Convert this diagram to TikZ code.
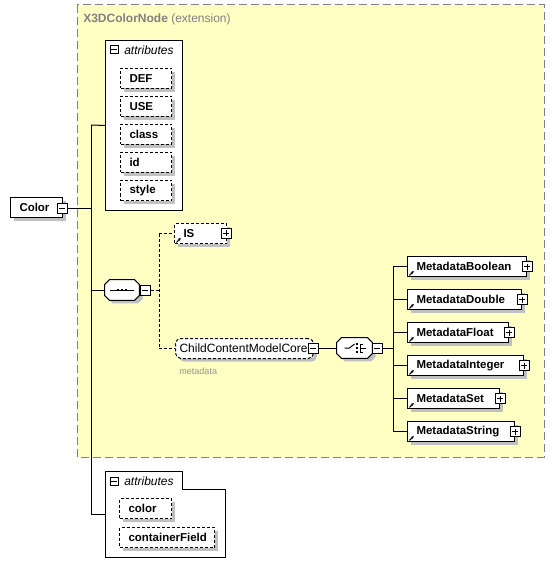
\documentclass[tikz,border=0pt]{standalone}
\usepackage{fontspec}
\setmainfont{Liberation Sans}
\usetikzlibrary{shadows,arrows.meta}
\def\pxu{0.75pt}
\definecolor{bgyellow}{HTML}{FFFFC4}
\definecolor{shdgray}{HTML}{C0C0C0}
\definecolor{ttlgray}{HTML}{808080}
\tikzset{
  lw/.style={line width=0.75pt},
  boldtxt/.style={font=\fontsize{8.6}{10}\selectfont\bfseries},
  regtxt/.style={font=\fontsize{9}{10}\selectfont},
  shd/.style={drop shadow={shadow xshift=2.6pt, shadow yshift=-2.4pt, fill=shdgray, opacity=1}},
  box/.style={draw, lw, fill=white, boldtxt, minimum height=15pt, inner ysep=0pt, inner xsep=6.75pt, align=left, shd},
  optbox/.style={box, dash pattern=on 2.25pt off 1.5pt},
  expb/.style={draw, lw, fill=white, minimum size=7.5pt, inner sep=0pt},
  minusbox/.style={expb, path picture={\draw[lw] ([xshift=1.5pt]path picture bounding box.west) -- ([xshift=-1.5pt]path picture bounding box.east);}},
  plusbox/.style={expb, path picture={\draw[lw] ([xshift=1.5pt]path picture bounding box.west) -- ([xshift=-1.5pt]path picture bounding box.east); \draw[lw] ([yshift=-1.5pt]path picture bounding box.north) -- ([yshift=1.5pt]path picture bounding box.south);}},
  smallminus/.style={draw, lw, fill=white, minimum size=6pt, inner sep=0pt, path picture={\draw[lw] ([xshift=1.1pt]path picture bounding box.west) -- ([xshift=-1.1pt]path picture bounding box.east);}},
  comp/.style={minimum height=15pt, inner sep=0pt},
  conn/.style={lw},
  dconn/.style={lw, dash pattern=on 2.25pt off 1.5pt},
  refarrow/.style={lw, -{Stealth[length=2.4pt,width=2.4pt]}},
  attrhdr/.style={font=\fontsize{9}{10}\selectfont\itshape, inner sep=0pt, anchor=west}
}
\newcommand\ebox[6][]{%
  \pgfmathsetmacro\tw{(#5)*0.75-13.5}%
  \node[box,#1,text width=\tw pt,anchor=north west] (#2) at (#3,#4) {#6};}
\newcommand\refmark[1]{\draw[refarrow] ([xshift=1.8pt,yshift=1.2pt]#1.south west) -- ++(3.3pt,3.3pt);}
% octagon outline around a node: #1 node, #2 x offset, #3 y offset, #4 path options
\newcommand\octa[4]{%
  \path[#4] ([xshift=#2+3.5pt,yshift=#3]#1.north west) -- ([xshift=#2-3.5pt,yshift=#3]#1.north east)
   -- ([xshift=#2,yshift=#3-3.5pt]#1.north east) -- ([xshift=#2,yshift=#3+3.5pt]#1.south east)
   -- ([xshift=#2-3.5pt,yshift=#3]#1.south east) -- ([xshift=#2+3.5pt,yshift=#3]#1.south west)
   -- ([xshift=#2,yshift=#3+3.5pt]#1.south west) -- ([xshift=#2,yshift=#3-3.5pt]#1.north west) -- cycle;}
\begin{document}
\begin{tikzpicture}[x=0.75pt,y=-0.75pt]
\useasboundingbox (0,0) rectangle (554,577);
% extension region
\path[fill=bgyellow, draw=ttlgray, lw, dash pattern=on 6pt off 3pt] (77,5) rectangle (544,457);
\node[anchor=west, inner sep=0pt, text=ttlgray, regtxt] (ttl) at (83,19) {\textbf{X3DColorNode} (extension)};

% top attributes group
\node[draw, lw, fill=white, anchor=north west, minimum width=77*\pxu, minimum height=170*\pxu, inner sep=0pt] (attrA) at (105,40) {};
\node[smallminus] (attrAx) at (114,50) {};
\node[attrhdr] (attrAh) at (124,50) {attributes};
\ebox[optbox]{def}{120}{68}{51}{DEF}
\ebox[optbox]{use}{120}{96}{51}{USE}
\ebox[optbox]{cls}{120}{124}{51}{class}
\ebox[optbox]{idn}{120}{152}{51}{id}
\ebox[optbox]{sty}{120}{180}{51}{style}

% root
\ebox{color}{10}{197}{52}{Color}
\node[minusbox] (colorx) at (62,208) {};

% sequence
\node[comp, minimum width=34*\pxu] (seq) at (122,290) {};
\octa{seq}{2.6pt}{-2.4pt}{fill=shdgray}
\octa{seq}{0pt}{0pt}{draw, lw, fill=white}
\draw[conn] ([xshift=-9pt]seq.center) -- ([xshift=9pt]seq.center);
\foreach \dx in {-3,0,3} \fill ([xshift=\dx pt]seq.center) +(-1pt,-1pt) rectangle +(1pt,1pt);
\node[minusbox] (seqx) at (145,290) {};

% IS
\ebox[optbox]{is}{174}{223}{52}{IS}
\refmark{is}
\node[plusbox] (isx) at (226,233) {};

% ChildContentModelCore
\node[box, dash pattern=on 2.25pt off 1.5pt, rounded corners=4pt, regtxt, anchor=north west, text width=97.5pt, inner xsep=3pt] (ccm) at (175,338) {ChildContentModelCore};
\node[minusbox] (ccmx) at (313,348) {};
\node[anchor=west, inner sep=0pt, text=ttlgray!85, font=\fontsize{6.8}{8}\selectfont] (ccmlbl) at (179,371) {metadata};

% choice
\node[comp, minimum width=35*\pxu] (cho) at (354.5,348) {};
\octa{cho}{2.6pt}{-2.4pt}{fill=shdgray}
\octa{cho}{0pt}{0pt}{draw, lw, fill=white}
\draw[conn] ([xshift=-7.5pt]cho.center) -- ([xshift=-3.8pt]cho.center) -- ([xshift=0pt,yshift=3pt]cho.center);
\foreach \dy in {-3,0,3} \fill ([xshift=2pt,yshift=\dy pt]cho.center) +(-0.9pt,-0.9pt) rectangle +(0.9pt,0.9pt);
\draw[conn] ([xshift=6.4pt,yshift=3pt]cho.center) -- ([xshift=4.2pt,yshift=3pt]cho.center) -- ([xshift=4.2pt,yshift=-3pt]cho.center) -- ([xshift=6.4pt,yshift=-3pt]cho.center);
\draw[conn] ([xshift=4.2pt]cho.center) -- ([xshift=8.4pt]cho.center);
\node[minusbox] (chox) at (377,348) {};

% metadata elements
\ebox{mb}{407}{256}{119}{MetadataBoolean}
\ebox{md}{407}{289}{114}{MetadataDouble}
\ebox{mf}{407}{322}{101}{MetadataFloat}
\ebox{mi}{407}{355}{116}{MetadataInteger}
\ebox{ms}{407}{388}{92}{MetadataSet}
\ebox{mst}{407}{421}{107}{MetadataString}
\foreach \n in {mb,md,mf,mi,ms,mst} {\refmark{\n}\node[plusbox] (\n x) at (\n.east) {};}

% bottom attributes group
\path[draw, lw, fill=white] (105,471) -- (182,471) -- (182,489) -- (225,489) -- (225,557) -- (105,557) -- cycle;
\coordinate (attrB) at (105,514);
\node[smallminus] (attrBx) at (114,481) {};
\node[attrhdr] (attrBh) at (124,481) {attributes};
\ebox[optbox]{col}{119}{498}{52}{color}
\ebox[optbox]{cf}{119}{527}{95}{containerField}

% connectors
\coordinate (jA) at (91,125);
\coordinate (jB) at (91,514);
\draw[conn] (colorx.east) -- (colorx.east -| jA);
\draw[conn] (jA) -- (jB);
\draw[conn] (jA) -- (attrA.west);
\draw[conn] (seq.west -| jA) -- (seq.west);
\draw[conn] (jB) -- (attrB);
\coordinate (jS) at (159,290);
\draw[dconn] (seqx.east) -- (jS);
\draw[dconn] (jS |- is.west) -- (jS |- ccm.west);
\draw[dconn] (jS |- is.west) -- (is.west);
\draw[dconn] (jS |- ccm.west) -- (ccm.west);
\draw[conn] (ccmx.east) -- (cho.west);
\coordinate (jC) at (393,348);
\draw[conn] (chox.east) -- (jC);
\draw[conn] (jC |- mb.west) -- (jC |- mst.west);
\foreach \n in {mb,md,mf,mi,ms,mst} \draw[conn] (jC |- \n.west) -- (\n.west);
\end{tikzpicture}
\end{document}
